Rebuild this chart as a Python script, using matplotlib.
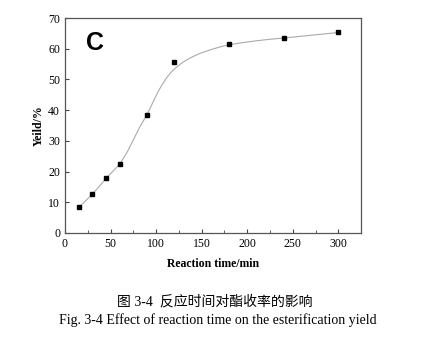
import matplotlib
matplotlib.use("Agg")
from matplotlib import pyplot as plt
from matplotlib.ticker import MultipleLocator

# measured points (reaction time in min, yield in %)
time_min = [15, 30, 45, 60, 90, 120, 180, 240, 300]
yield_pct = [8.5, 12.7, 18.0, 22.4, 38.5, 55.8, 61.7, 63.4, 65.3]

# fitted curve
fit_x = [15, 22, 30, 38, 45, 52, 60, 68, 75, 82, 90, 94, 98, 102, 106, 111,
         116, 120, 124, 128, 131, 135, 140, 145, 150, 160, 170, 180, 195,
         210, 225, 240, 270, 300]
fit_y = [8.3, 10.3, 12.6, 15.3, 17.8, 19.9, 22.4, 26.2, 30.3, 34.5, 38.5,
         41.0, 43.5, 45.9, 48.0, 50.3, 52.2, 53.4, 54.4, 55.3, 55.9, 56.6,
         57.4, 58.1, 58.7, 59.7, 60.6, 61.3, 62.0, 62.6, 63.1, 63.5, 64.4,
         65.3]

plt.rcParams['font.family'] = ['Liberation Serif', 'Noto Sans CJK SC']

fig = plt.figure(figsize=(4.3, 3.39), dpi=100)
ax = fig.add_axes([0.151, 0.3127, 0.689, 0.634])

ax.plot(fit_x, fit_y, color="#aaaaaa", lw=0.8)
ax.plot(time_min, yield_pct, "s", color="black", markersize=3.5)

ax.set_xlim(0, 325)
ax.set_ylim(0, 70)
ax.xaxis.set_major_locator(MultipleLocator(50))
ax.xaxis.set_minor_locator(MultipleLocator(25))
ax.yaxis.set_major_locator(MultipleLocator(10))
ax.tick_params(which="both", direction="in", labelsize=8.5, color="#444444")
ax.tick_params(which="major", length=3)
ax.tick_params(which="minor", length=2)
for s in ax.spines.values():
    s.set_color("#555555")
    s.set_linewidth(0.9)

ax.set_xlabel("Reaction time/min", fontsize=8.5, fontweight="bold", labelpad=6)
ax.set_ylabel("Yeild/%", fontsize=8.5, fontweight="bold", labelpad=2.5)

ax.text(0.07, 0.885, "C", transform=ax.transAxes, fontsize=18,
        fontweight="bold", family="Liberation Sans", va="center", ha="left")

fig.text(0.5, 0.11, "图 3-4  反应时间对酯收率的影响", ha="center", va="center",
         fontsize=10)
fig.text(0.506, 0.055, "Fig. 3-4 Effect of reaction time on the esterification yield",
         ha="center", va="center", fontsize=10)

fig.savefig("out.png", dpi=100)
